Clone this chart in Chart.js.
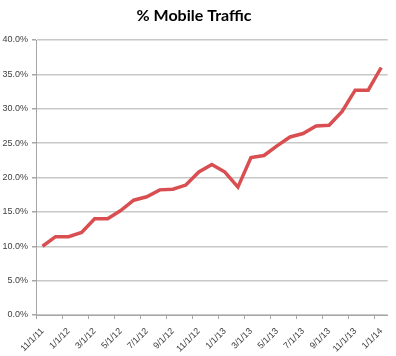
<!DOCTYPE html>
<html>
<head>
<meta charset="utf-8">
<script src="https://cdn.jsdelivr.net/npm/chart.js@4/dist/chart.umd.min.js"></script>
<style>
html,body{margin:0;padding:0;background:#fff;}
#wrap{position:relative;width:396px;height:356px;}
</style>
</head>
<body>
<div id="wrap"><canvas id="c"></canvas></div>
<script>
const categories = ['11/1/11','12/1/11','1/1/12','2/1/12','3/1/12','4/1/12','5/1/12','6/1/12','7/1/12','8/1/12','9/1/12','10/1/12','11/1/12','12/1/12','1/1/13','2/1/13','3/1/13','4/1/13','5/1/13','6/1/13','7/1/13','8/1/13','9/1/13','10/1/13','11/1/13','12/1/13','1/1/14'];
const mobileShare = [10.0,11.4,11.4,12.0,14.0,14.0,15.2,16.7,17.2,18.2,18.3,18.9,20.8,21.9,20.8,18.6,22.9,23.2,24.6,25.9,26.4,27.5,27.6,29.6,32.7,32.7,36.0];
const yTicks = {min: 0, max: 40, step: 5};
const titleText = '% Mobile Traffic';

new Chart(document.getElementById('c'), {
  type: 'line',
  data: {
    labels: categories,
    datasets: [{
      data: mobileShare,
      borderColor: '#d94f51',
      borderWidth: 3.5,
      pointRadius: 0,
      tension: 0,
      fill: false
    }]
  },
  options: {
    responsive: true,
    maintainAspectRatio: false,
    animation: false,
    devicePixelRatio: 1,
    layout: {padding: {left: 0, right: 8, top: 0, bottom: 0}},
    plugins: {
      legend: {display: false},
      tooltip: {enabled: false},
      title: {
        display: true,
        text: titleText,
        color: '#000',
        font: {family: 'Lato', size: 16, weight: 'bold'},
        padding: {top: 6, bottom: 14.8}
      }
    },
    scales: {
      x: {
        type: 'category',
        offset: true,
        afterFit: s => { s.height = 41; },
        grid: {
          offset: true,
          drawOnChartArea: false,
          drawTicks: true,
          tickLength: 4,
          tickColor: ctx => (ctx.index % 2 === 0 ? '#a6a6a6' : 'rgba(0,0,0,0)'),
          tickWidth: 1
        },
        border: {display: true, color: '#a6a6a6', width: 1},
        ticks: {
          autoSkip: false,
          maxRotation: 45,
          minRotation: 45,
          padding: 7,
          color: '#404040',
          font: {family: 'Liberation Sans', size: 9},
          callback: function(v, i) { return i % 2 === 0 ? this.getLabelForValue(v) : ''; }
        }
      },
      y: {
        min: yTicks.min,
        max: yTicks.max,
        afterFit: s => { s.width = 36; },
        grid: {
          color: '#c8c8c8',
          lineWidth: 1.5,
          drawTicks: true,
          tickLength: 4,
          tickColor: '#a6a6a6'
        },
        border: {display: true, color: '#a6a6a6', width: 1},
        ticks: {
          stepSize: yTicks.step,
          padding: 4,
          color: '#404040',
          font: {family: 'Liberation Sans', size: 9},
          callback: v => v.toFixed(1) + '%'
        }
      }
    }
  }
});
</script>
</body>
</html>
